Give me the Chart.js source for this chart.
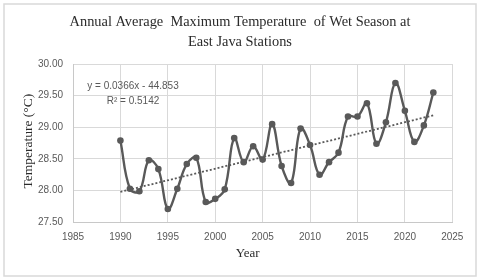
<!DOCTYPE html>
<html><head><meta charset="utf-8">
<script src="https://cdn.jsdelivr.net/npm/chart.js@4.4.1/dist/chart.umd.min.js"></script>
<style>html,body{margin:0;padding:0;background:#fff}canvas{display:block}</style>
</head><body>
<canvas id="c" width="480" height="280"></canvas>
<script>
const years = [1990,1991,1992,1993,1994,1995,1996,1997,1998,1999,2000,2001,2002,2003,2004,2005,2006,2007,2008,2009,2010,2011,2012,2013,2014,2015,2016,2017,2018,2019,2020,2021,2022,2023];
const temps = [28.79,28.03,27.99,28.48,28.34,27.71,28.03,28.42,28.52,27.82,27.87,28.02,28.83,28.45,28.70,28.49,29.05,28.39,28.12,28.98,28.72,28.25,28.45,28.60,29.17,29.17,29.38,28.74,29.08,29.70,29.26,28.77,29.03,29.55];
const trendYears = [1990, 2023];
const trendValues = [27.98, 29.19];
const titleLines = ["Annual Average  Maximum Temperature  of Wet Season at", "East Java Stations"];
const xTitle = "Year";
const yTitle = "Temperature (\u00B0C)";
const eqLines = ["y = 0.0366x - 44.853", "R\u00B2 = 0.5142"];

const deco = {
  id: 'deco',
  beforeDraw(chart) {
    const ctx = chart.ctx;
    ctx.save();
    ctx.fillStyle = '#fff';
    ctx.fillRect(0, 0, chart.width, chart.height);
    ctx.restore();
  },
  afterDraw(chart) {
    const ctx = chart.ctx;
    const a = chart.chartArea;
    ctx.save();
    ctx.strokeStyle = '#d9d9d9';
    ctx.lineWidth = 1.5;
    ctx.strokeRect(4, 4, 472, 272);
    ctx.fillStyle = '#2b2b2b';
    ctx.textAlign = 'center';
    ctx.textBaseline = 'middle';
    ctx.font = '14.4px "Liberation Serif", serif';
    ctx.fillText(titleLines[0], 240, 22);
    ctx.fillText(titleLines[1], 240, 42);
    ctx.font = '13px "Liberation Serif", serif';
    ctx.fillText(xTitle, (a.left + a.right) / 2 - 15, 254);
    ctx.save();
    ctx.translate(28, (a.top + a.bottom) / 2 - 2);
    ctx.rotate(-Math.PI / 2);
    ctx.font = '13.5px "Liberation Serif", serif';
    ctx.fillText(yTitle, 0, 0);
    ctx.restore();
    ctx.fillStyle = '#595959';
    ctx.font = '10px "Liberation Sans", sans-serif';
    ctx.fillText(eqLines[0], 133, 86);
    ctx.fillText(eqLines[1], 133, 101);
    ctx.restore();
  }
};

new Chart(document.getElementById('c'), {
  type: 'line',
  data: {
    datasets: [
      {
        data: years.map((y, i) => ({x: y, y: temps[i]})),
        borderColor: '#595959',
        backgroundColor: '#595959',
        borderWidth: 2.4,
        pointRadius: 3.3,
        pointBorderWidth: 0,
        tension: 0.4,
        order: 1
      },
      {
        data: trendYears.map((y, i) => ({x: y, y: trendValues[i]})),
        borderColor: '#595959',
        borderWidth: 1.8,
        borderDash: [2, 2],
        pointRadius: 0,
        tension: 0,
        order: 0
      }
    ]
  },
  options: {
    responsive: false,
    animation: false,
    devicePixelRatio: 1,
    layout: {padding: {left: 0, top: 64, right: 27.7, bottom: 0}},
    plugins: {legend: {display: false}, title: {display: false}, tooltip: {enabled: false}},
    scales: {
      x: {
        type: 'linear',
        min: 1985, max: 2025,
        ticks: {stepSize: 5, color: '#595959', font: {family: '"Liberation Sans", sans-serif', size: 10}, padding: 9, callback: v => String(v), maxRotation: 0},
        grid: {color: '#d9d9d9', lineWidth: 1, drawTicks: false},
        border: {color: '#c8c8c8', width: 1},
        afterFit: s => { s.height = 57.7; }
      },
      y: {
        min: 27.5, max: 30,
        ticks: {stepSize: 0.5, color: '#595959', font: {family: '"Liberation Sans", sans-serif', size: 10}, padding: 10, callback: v => Number(v).toFixed(2)},
        grid: {color: '#d9d9d9', lineWidth: 1, drawTicks: false},
        border: {color: '#c8c8c8', width: 1},
        afterFit: s => { s.width = 73; }
      }
    }
  },
  plugins: [deco]
});
</script>
</body></html>
